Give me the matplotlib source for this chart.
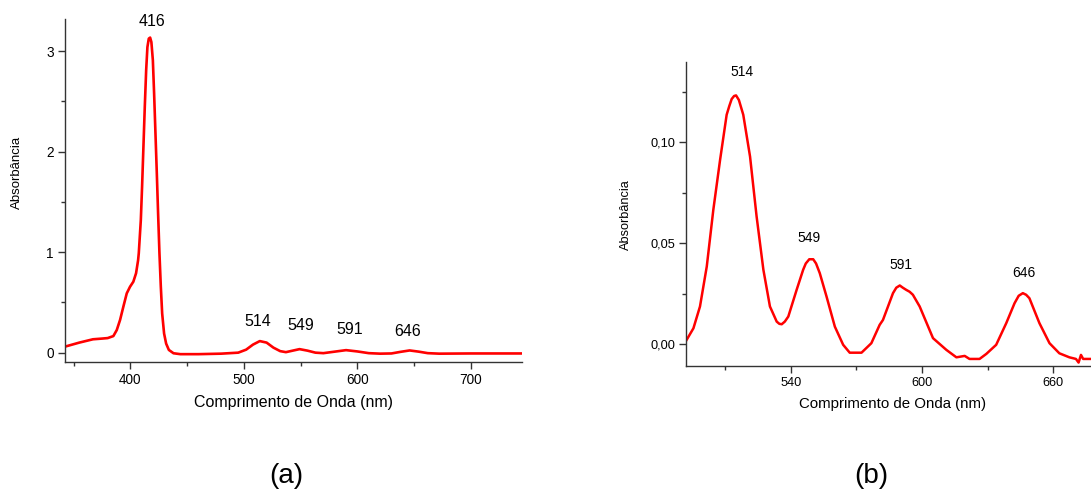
import matplotlib
matplotlib.use('Agg')
import matplotlib.pyplot as plt
from matplotlib.ticker import MultipleLocator, FuncFormatter

plt.rcParams['font.family'] = ['Liberation Sans', 'DejaVu Sans']

# ── DATA ─────────────────────────────────────────────────────────────────────

# (a) full spectrum
wl_a = [342.4, 355, 367, 375, 380, 385, 388, 390.9, 393.8, 396.8, 399.7, 402.6,
        405, 406.8, 407.4, 409.2, 410.3, 411.5, 412.7, 413.9, 415.0, 416.2, 417.4,
        418.5, 419.8, 420.9, 422.1, 423.3, 424.4, 425.6, 426.8, 428, 429.7, 431.5,
        433.9, 438, 444, 460, 480, 495, 502, 508, 514, 520, 526, 532, 537, 543,
        549, 556, 563, 570, 580, 590, 600, 610, 620, 630, 638, 646, 654, 662, 672,
        700, 745]
abs_a = [0.06, 0.10, 0.133, 0.14, 0.145, 0.165, 0.225, 0.325, 0.457, 0.59, 0.656,
         0.706, 0.79, 0.92, 0.99, 1.32, 1.65, 2.05, 2.45, 2.81, 3.04, 3.125, 3.135,
         3.09, 2.91, 2.58, 2.18, 1.78, 1.39, 0.99, 0.66, 0.39, 0.19, 0.09, 0.027,
         -0.006, -0.015, -0.015, -0.01, 0.0, 0.03, 0.08, 0.115, 0.1, 0.05, 0.015,
         0.005, 0.02, 0.035, 0.02, 0.0, -0.005, 0.01, 0.025, 0.012, -0.005, -0.01,
         -0.008, 0.008, 0.022, 0.01, -0.005, -0.01, -0.008, -0.008]

# (b) Q-band region
wl_b = [492.1, 495.4, 498.4, 501.5, 504.5, 507.6, 510.6, 511.8, 512.9, 514.0,
        514.9, 516.2, 517.3, 518.2, 521.3, 524.3, 527.4, 530.4, 533.5, 534.7,
        535.8, 537.2, 538.8, 542.6, 545.6, 546.8, 548.4, 550.2, 551.5, 553.2,
        556.3, 560.1, 563.9, 566.9, 572.3, 576.8, 580.6, 582.1, 586.7, 588.2,
        589.8, 591.2, 592.8, 594.3, 595.8, 598.9, 605, 611.1, 615.7, 619.5,
        621.7, 626.3, 629.4, 633.9, 638.5, 642.3, 644.2, 646.1, 647.6, 649.1,
        653.7, 658.3, 662.8, 667.4, 670.4, 671.6, 672.7, 673.7, 676.9]
abs_b = [0.0018, 0.0079, 0.0187, 0.0385, 0.0666, 0.0914, 0.1137, 0.118, 0.1215,
         0.123, 0.1233, 0.121, 0.117, 0.1137, 0.093, 0.0633, 0.0369, 0.0187,
         0.0112, 0.0101, 0.0099, 0.0112, 0.0137, 0.0269, 0.0369, 0.040, 0.0421,
         0.0421, 0.040, 0.0352, 0.0236, 0.0087, -0.0003, -0.0042, -0.0042, 0.0005,
         0.0096, 0.012, 0.0253, 0.028, 0.0291, 0.028, 0.0269, 0.026, 0.0245,
         0.0187, 0.003, -0.0028, -0.0065, -0.0058, -0.0073, -0.0073, -0.0048,
         -0.0003, 0.0104, 0.0203, 0.024, 0.0253, 0.0245, 0.0228, 0.0104, 0.0005,
         -0.0045, -0.0065, -0.0073, -0.0091, -0.0053, -0.0073, -0.0073]

# peak labels: text, x, y
peaks_a = [('416', 419.4, 3.30), ('514', 512, 0.31), ('549', 549.8, 0.274),
           ('591', 593, 0.232), ('646', 644.5, 0.209)]
peaks_b = [('514', 517.8, 0.135), ('549', 548.4, 0.0526),
           ('591', 590.2, 0.0393), ('646', 646.4, 0.0352)]

# ── FIGURE ───────────────────────────────────────────────────────────────────

W, H = 1091, 490
fig = plt.figure(figsize=(W / 100, H / 100), dpi=100)

def px_axes(left, top, right, bottom):
    return fig.add_axes([left / W, 1 - bottom / H, (right - left) / W, (bottom - top) / H])

def style(ax, size):
    for s in ['top', 'right']:
        ax.spines[s].set_visible(False)
    for s in ['left', 'bottom']:
        ax.spines[s].set_color('#333333')
        ax.spines[s].set_linewidth(1.0)
    ax.tick_params(which='major', direction='out', length=5, width=1.0,
                   color='#333333', labelsize=size, pad=3)
    ax.tick_params(which='minor', direction='out', length=3, width=1.0, color='#333333')

red = '#ff0000'

# Panel (a)
ax1 = px_axes(65, 19, 522, 361.7)
ax1.plot(wl_a, abs_a, color=red, linewidth=1.9, solid_joinstyle='round')
ax1.set_xlim(342.4, 745)
ax1.set_ylim(-0.09, 3.32)
ax1.xaxis.set_major_locator(MultipleLocator(100))
ax1.xaxis.set_minor_locator(MultipleLocator(50))
ax1.yaxis.set_major_locator(MultipleLocator(1))
ax1.yaxis.set_minor_locator(MultipleLocator(0.5))
style(ax1, 9.8)
ax1.set_xlabel('Comprimento de Onda (nm)', fontsize=11.5, va='top')
ax1.xaxis.set_label_coords(0.5, -0.097)
ax1.set_ylabel('Absorbância', fontsize=9.5)
ax1.yaxis.set_label_coords(-0.092, 0.551)
for t, x, y in peaks_a:
    ax1.text(x, y, t, fontsize=11.5, ha='center', va='center')

# Panel (b)
ax2 = px_axes(686, 61.7, 1100, 366)
ax2.plot(wl_b, abs_b, color=red, linewidth=1.8, solid_joinstyle='round')
ax2.set_xlim(492.0, 681.4)
ax2.set_ylim(-0.0108, 0.140)
ax2.xaxis.set_major_locator(MultipleLocator(60))
ax2.xaxis.set_minor_locator(MultipleLocator(30))
ax2.yaxis.set_major_locator(MultipleLocator(0.05))
ax2.yaxis.set_minor_locator(MultipleLocator(0.025))
ax2.yaxis.set_major_formatter(FuncFormatter(lambda v, p: f'{v:.2f}'.replace('.', ',')))
style(ax2, 9.2)
ax2.set_xlabel('Comprimento de Onda (nm)', fontsize=10.8, va='top')
ax2.xaxis.set_label_coords(0.5, -0.102)
ax2.set_ylabel('Absorbância', fontsize=9.2)
ax2.yaxis.set_label_coords(-0.130, 0.496)
for t, x, y in peaks_b:
    ax2.text(x, y, t, fontsize=10, ha='center', va='center')

# captions
fig.text(286 / W, 1 - 476 / H, '(a)', fontsize=20, ha='center', va='center')
fig.text(871 / W, 1 - 476 / H, '(b)', fontsize=20, ha='center', va='center')

fig.savefig('out.png', dpi=100)
